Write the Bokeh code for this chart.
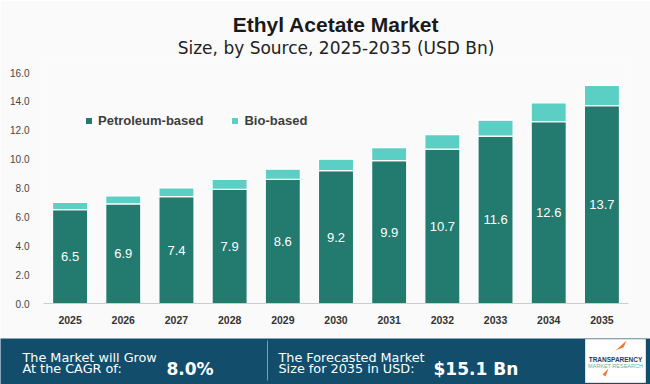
from bokeh.plotting import figure
from bokeh.models import ColumnDataSource, FactorRange, Range1d, Title, Legend, CustomJSTickFormatter
from bokeh.layouts import column
from bokeh.embed import file_html
from bokeh.resources import INLINE
from bokeh.core.properties import value

# ---------------- data ----------------
years = ["2025", "2026", "2027", "2028", "2029", "2030", "2031", "2032", "2033", "2034", "2035"]
petroleum = [6.5, 6.9, 7.4, 7.9, 8.6, 9.2, 9.9, 10.7, 11.6, 12.6, 13.7]
bio = [0.5, 0.55, 0.6, 0.7, 0.7, 0.8, 0.9, 1.0, 1.1, 1.3, 1.4]
series_names = ["Petroleum-based", "Bio-based"]
y_ticks = [0, 2, 4, 6, 8, 10, 12, 14, 16]
cagr_text = "8.0%"
forecast_text = "$15.1 Bn"

C_PET = "#237a6e"
C_BIO = "#5bcfc3"
BG = "#fafafa"
FOOT = "#124e6c"

src = ColumnDataSource(dict(
    year=years,
    pet=petroleum,
    bio=bio,
    mid=[v / 2 for v in petroleum],
    lab=[f"{v:.1f}" for v in petroleum],
))

p = figure(width=650, height=338, x_range=FactorRange(factors=years, range_padding=0),
           y_range=Range1d(0, 17.04), output_backend="svg", toolbar_location=None,
           background_fill_color=BG, border_fill_color=BG, outline_line_color=None,
           min_border_left=43, min_border_right=22, min_border_bottom=35, min_border_top=57)
p.frame_align = False

p.add_layout(Title(text="Size, by Source, 2025-2035 (USD Bn)", align="center",
                   text_font="DejaVu Sans", text_font_size="17px",
                   text_font_style="normal", text_color="#222222", standoff=0), "above")
p.add_layout(Title(text="Ethyl Acetate Market", align="center",
                   text_font="Liberation Sans", text_font_size="21px",
                   text_font_style="bold", text_color="#1a1a1a", standoff=0), "above")

rs = p.vbar_stack(["pet", "bio"], x="year", width=0.66, color=[C_PET, C_BIO],
                  line_color="white", line_width=1.2, source=src)

p.text(x="year", y="mid", text="lab", source=src, text_color="white",
       text_font=value("Liberation Sans"), text_font_size="13px",
       text_align="center", text_baseline="middle")

legend = Legend(items=[(series_names[0], [rs[0]]), (series_names[1], [rs[1]])],
                orientation="horizontal", location=(41, 175),
                glyph_width=9, glyph_height=9, label_height=9, label_standoff=5,
                spacing=27, padding=0, margin=0,
                background_fill_alpha=0, border_line_color=None,
                label_text_font="Liberation Sans", label_text_font_size="13px",
                label_text_font_style="bold", label_text_color="#3d3d3d")
p.add_layout(legend)

p.xgrid.grid_line_color = None
p.ygrid.grid_line_color = None

p.yaxis.ticker = y_ticks
p.yaxis.formatter = CustomJSTickFormatter(code="return tick.toFixed(1);")
p.yaxis.axis_line_color = None
p.yaxis.major_tick_line_color = None
p.yaxis.minor_tick_line_color = None
p.yaxis.major_label_standoff = 8
p.yaxis.major_label_text_font = "Liberation Sans"
p.yaxis.major_label_text_font_size = "10px"
p.yaxis.major_label_text_color = "#444444"

p.xaxis.axis_line_color = "#cccccc"
p.xaxis.axis_line_width = 1
p.xaxis.major_tick_line_color = None
p.xaxis.minor_tick_line_color = None
p.xaxis.major_label_standoff = 6
p.xaxis.major_label_text_font = "Liberation Sans"
p.xaxis.major_label_text_font_size = "10.5px"
p.xaxis.major_label_text_font_style = "bold"
p.xaxis.major_label_text_color = "#333333"

# ---------------- footer ----------------
f = figure(width=650, height=46, x_range=Range1d(0, 650), y_range=Range1d(0, 46),
           output_backend="svg", toolbar_location=None,
           x_axis_location=None, y_axis_location=None,
           background_fill_color=FOOT, border_fill_color=FOOT, outline_line_color=None,
           min_border_left=0, min_border_right=0, min_border_top=0, min_border_bottom=0)
f.frame_align = False
try:
    f.title = None
except Exception:
    f.title.visible = False
f.grid.grid_line_color = None

small = dict(text_font=value("DejaVu Sans"), text_font_size="12.8px", text_color="white",
             text_baseline="alphabetic", text_align="left")
big = dict(text_font=value("DejaVu Sans"), text_font_size="17px", text_font_style="bold",
           text_color="white", text_baseline="alphabetic", text_align="left")
f.text(x=[22, 22], y=[27.5, 16], text=["The Market will Grow", "At the CAGR of:"], **small)
f.text(x=[166], y=[15.5], text=[cagr_text], **big)
f.segment(x0=[267], y0=[44], x1=[267], y1=[4], line_color="#7f9fb0", line_width=1)
f.text(x=[278, 278], y=[27.5, 16], text=["The Forecasted Market", "Size for 2035 in USD:"], **small)
f.text(x=[433], y=[15.5], text=[forecast_text], **big)

# logo
f.quad(left=[585], right=[645], bottom=[2], top=[45], fill_color="white", line_color="#dddddd")
f.patch(x=[614, 626, 623, 617], y=[33, 44, 37, 35], fill_color="#f07a2a", line_color=None)
f.text(x=[615], y=[25], text=["TRANSPARENCY"], text_font=value("Liberation Sans"),
       text_font_size="6.5px", text_font_style="bold", text_color="#1f3b5c",
       text_align="center", text_baseline="middle")
f.text(x=[615], y=[19], text=["MARKET RESEARCH"], text_font=value("Liberation Sans"),
       text_font_size="5.5px", text_color="#5bb89a",
       text_align="center", text_baseline="middle")
f.patch(x=[602, 608, 605], y=[10, 16, 8], fill_color="#f07a2a", line_color=None)

layout = column(p, f, spacing=0)
open("out.html", "w").write(file_html(layout, INLINE))
